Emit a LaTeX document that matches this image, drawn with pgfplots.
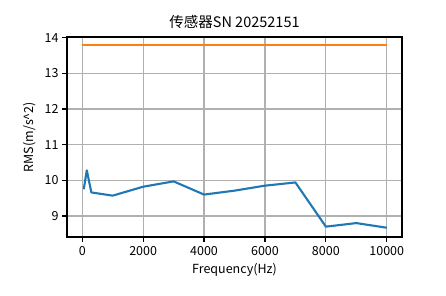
\documentclass[border=0pt]{standalone}
\usepackage{pgfplots}
\pgfplotsset{compat=1.18}
\usepackage{fontspec}
\setmainfont{Noto Sans CJK SC}
\definecolor{tabblue}{HTML}{1F77B4}
\definecolor{taborange}{HTML}{FF7F0E}
\definecolor{gridgray}{HTML}{B0B0B0}
\begin{document}
\begin{tikzpicture}[x=1pt,y=1pt]
\path[use as bounding box] (0,0) rectangle (446,296);
\begin{axis}[
  at={(67pt,59pt)}, anchor=south west,
  scale only axis, width=335pt, height=200pt,
  xmin=-500, xmax=10500, ymin=8.41, ymax=14.02,
  xtick={0,2000,4000,6000,8000,10000},
  ytick={9,10,11,12,13,14},
  scaled x ticks=false,
  /pgf/number format/1000 sep={},
  /pgf/number format/assume math mode=true,
  tick align=outside, tick pos=left,
  major tick length=4.9pt,
  every tick/.style={black, line width=1.1pt},
  axis line style={black, line width=1.1pt},
  grid=major,
  major grid style={gridgray, line width=1.1pt},
  ticklabel style={font=\fontsize{12.5}{14}\selectfont},
  xticklabel style={yshift=-1pt},
  title={传感器SN 20252151},
  title style={font=\fontsize{14.5}{17}\selectfont, yshift=-1pt},
  xlabel={Frequency(Hz)},
  ylabel={RMS(m/s\textasciicircum 2)},
  label style={font=\fontsize{12.5}{14}\selectfont},
  xlabel style={yshift=-1pt},
  ylabel style={yshift=2pt},
]
\addplot[tabblue, line width=2.1pt, line join=round] coordinates {
(50,9.75) (150,10.28) (300,9.66) (1000,9.57) (2000,9.82) (3000,9.97)
(4000,9.60) (5000,9.71) (6000,9.85) (7000,9.94) (8000,8.70) (9000,8.80) (10000,8.67)
};
\addplot[taborange, line width=2.1pt] coordinates {
(0,13.79) (10000,13.79)
};
\end{axis}
\end{tikzpicture}
\end{document}
